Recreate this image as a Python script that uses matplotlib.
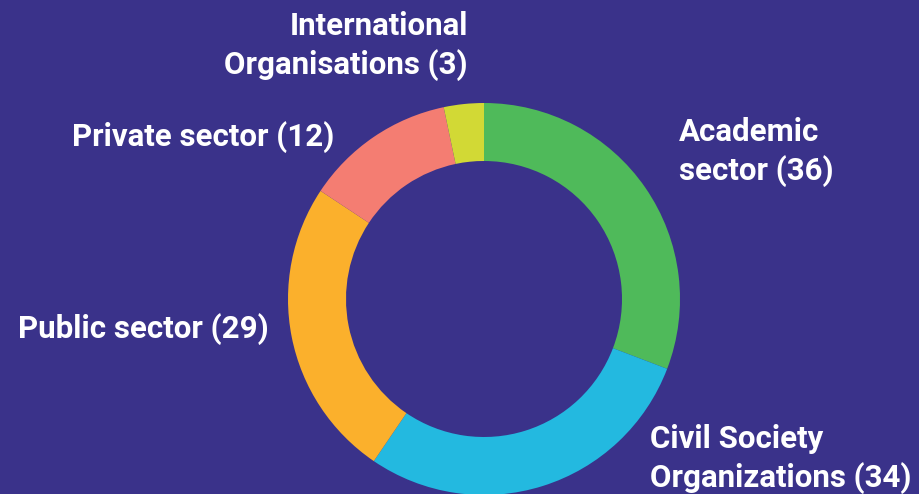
import matplotlib.pyplot as plt

# Stakeholder groups, clockwise from the top
labels = ['Academic\nsector (36)', 'Civil Society\nOrganizations (34)', 'Public sector (29)',
          'Private sector (12)', 'International\nOrganisations (3)']
counts = [36, 34, 29, 12, 3]
# wedge shares (%) as drawn in the original chart
shares = [30.8, 28.7, 24.8, 12.4, 3.3]
colors = ['#4fba5a', '#23b9e0', '#fbb02c', '#f47d72', '#d2d935']
bg = '#3a328a'

plt.rcParams['font.family'] = ['Roboto', 'DejaVu Sans']

fig = plt.figure(figsize=(9.2, 4.94), dpi=100, facecolor=bg)
ax = fig.add_axes([0, 0, 1, 1])
ax.set_facecolor(bg)

# work in pixel coordinates, y upward
cx, cy, r = 484, 494 - 299, 196
ax.pie(shares, colors=colors, startangle=90, counterclock=False,
       center=(cx, cy), radius=r,
       wedgeprops=dict(width=58, linewidth=0))
ax.set_xlim(0, 920)
ax.set_ylim(0, 494)
ax.set_aspect('equal')
ax.axis('off')

# label positions (pixel coords, top-down y) and alignment
label_pos = [(679, 152, 'left'), (650, 459, 'left'), (18, 329, 'left'),
             (72, 137, 'left'), (468, 46, 'right')]
for lab, (x, y, ha) in zip(labels, label_pos):
    ax.text(x, 494 - y, lab, color='white', fontsize=22.5, fontweight='bold',
            ha=ha, va='center', linespacing=1.29)

fig.savefig('out.png', dpi=100, facecolor=bg)
